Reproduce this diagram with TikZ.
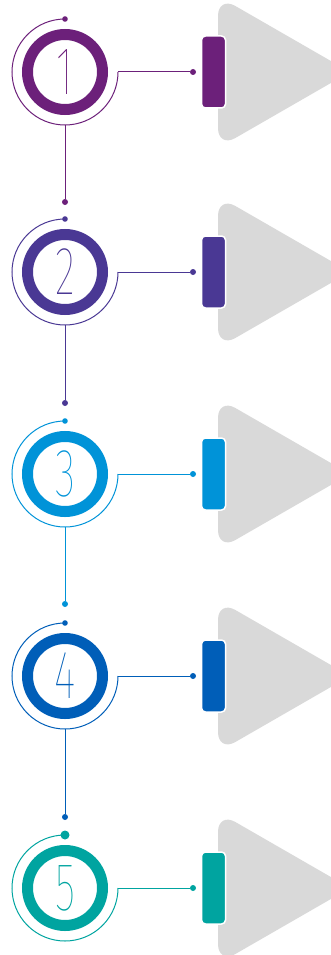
\documentclass[tikz,border=0pt]{standalone}
\usepackage{fontspec}
\IfFontExistsTF{Fira Sans Hair}{\newfontfamily\digitfont{Fira Sans Hair}[FakeStretch=0.62]}{%
  \IfFontExistsTF{Fira Sans Thin}{\newfontfamily\digitfont{Fira Sans Thin}[FakeStretch=0.62]}{%
    \newfontfamily\digitfont{Fira Sans}[FakeStretch=0.62]}}
\definecolor{stepone}{RGB}{108,32,122}
\definecolor{steptwo}{RGB}{74,56,148}
\definecolor{stepthree}{RGB}{0,147,216}
\definecolor{stepfour}{RGB}{0,94,184}
\definecolor{stepfive}{RGB}{0,164,160}
\definecolor{arrowgray}{RGB}{217,217,217}
\tikzset{
  ring/.style={circle,line width=11pt,minimum size=75pt,inner sep=0pt},
  tab/.style={rounded corners=4pt,draw=white,line width=1.5pt,minimum width=24pt,minimum height=72pt,inner sep=0pt},
  wire/.style={line width=1pt},
  pin/.style={circle,inner sep=0pt,minimum size=6pt},
}
\begin{document}
\begin{tikzpicture}[x=1pt,y=1pt]
\useasboundingbox (0,0) rectangle (331,-955);
\clip (0,0) rectangle (331,-955);
\foreach \n/\cy/\col/\dr in {1/72/stepone/2.8,2/272/steptwo/2.8,3/474/stepthree/2.8,4/676/stepfour/2.8,5/888/stepfive/4.5}{
  % grey arrow behind the tab
  \fill[arrowgray,rounded corners=20pt] (218,-\cy+76) -- (350,-\cy) -- (218,-\cy-76) -- cycle;
  \node[ring,draw=\col] (ring\n) at (65,-\cy) {\digitfont\fontsize{68}{68}\selectfont\color{\col}\n};
  \node[tab,fill=\col] (tab\n) at (213.5,-\cy) {};
  \coordinate (top\n) at (65,-\cy+53);
  \coordinate (bot\n) at (65,-\cy-53);
  \node[pin,fill=\col] (pin\n) at (193,-\cy) {};
  \draw[wire,\col] (top\n) arc[start angle=90,end angle=360,radius=53] coordinate (rt\n);
  \draw[wire,\col] (rt\n) -- (pin\n);
  \node[pin,fill=\col,minimum size=2*\dr] (dot\n) at (top\n) {};
}
% links between the steps
\foreach \n/\ly/\col in {1/202/stepone,2/403/steptwo,3/604/stepthree,4/817/stepfour}{
  \node[pin,fill=\col] (lnk\n) at (65,-\ly) {};
  \draw[wire,\col] (bot\n) -- (lnk\n);
}
\end{tikzpicture}
\end{document}
